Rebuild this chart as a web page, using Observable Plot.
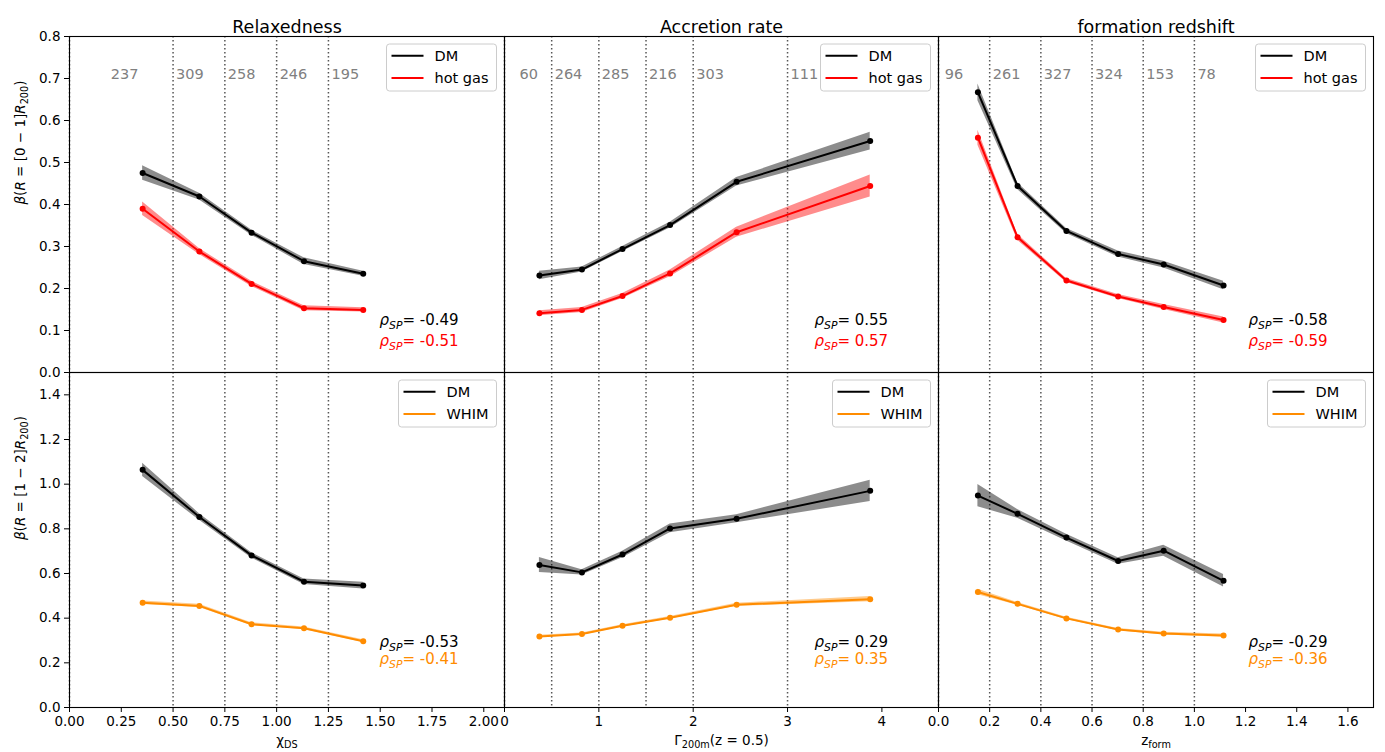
<!DOCTYPE html>
<html><head><meta charset="utf-8">
<script src="https://cdn.jsdelivr.net/npm/d3@7"></script>
<script src="https://cdn.jsdelivr.net/npm/@observablehq/plot@0.6"></script>
<style>
body{margin:0;background:#fff;}
#chart{position:relative;width:1385px;height:752px;overflow:hidden;font-family:"DejaVu Sans";background:#fff;}
#chart svg{position:absolute;}
</style></head><body><div id="chart"></div>
<script>
// ---------- data ----------
const titles = ["Relaxedness", "Accretion rate", "formation redshift"];
const xLabels = ["χDS", "Γ200m(z = 0.5)", "zform"];
const yLabels = ["β(R = [0 − 1]R200)", "β(R = [1 − 2]R200)"];

// Relaxedness
const relaxX = [0.353, 0.627, 0.879, 1.132, 1.418];
const relaxDMIn = [0.475, 0.419, 0.333, 0.265, 0.235];
const relaxDMInErr = [0.017, 0.008, 0.006, 0.008, 0.006];
const relaxGas = [0.390, 0.288, 0.211, 0.153, 0.149];
const relaxGasErr = [0.016, 0.007, 0.006, 0.006, 0.005];
const relaxDMOut = [1.064, 0.853, 0.681, 0.563, 0.546];
const relaxDMOutErr = [0.030, 0.015, 0.012, 0.012, 0.015];
const relaxWHIM = [0.469, 0.455, 0.373, 0.355, 0.297];
const relaxWHIMErr = [0.008, 0.007, 0.006, 0.006, 0.006];
const relaxEdges = [0, 0.5, 0.75, 1.0, 1.25];
const relaxCounts = [237, 309, 258, 246, 195];
const relaxCountX = [0.185, 0.5, 0.75, 1.0, 1.25];
const relaxRho = [-0.49, -0.51, -0.53, -0.41];
const relaxTicks = [0, 0.25, 0.5, 0.75, 1.0, 1.25, 1.5, 1.75, 2.0];

// Accretion rate
const accX = [0.37, 0.821, 1.251, 1.755, 2.46, 3.876];
const accDMIn = [0.231, 0.245, 0.294, 0.351, 0.454, 0.551];
const accDMInErr = [0.010, 0.006, 0.006, 0.007, 0.010, 0.021];
const accGas = [0.141, 0.149, 0.182, 0.236, 0.334, 0.444];
const accGasErr = [0.006, 0.006, 0.006, 0.008, 0.012, 0.026];
const accDMOut = [0.638, 0.605, 0.685, 0.802, 0.845, 0.970];
const accDMOutErr = [0.034, 0.012, 0.015, 0.020, 0.018, 0.048];
const accWHIM = [0.318, 0.329, 0.366, 0.402, 0.460, 0.485];
const accWHIMErr = [0.006, 0.005, 0.005, 0.006, 0.007, 0.012];
const accEdges = [0, 0.5, 1, 1.5, 2, 3];
const accCounts = [60, 264, 285, 216, 303, 111];
const accCountX = [0.128, 0.5, 1, 1.5, 2, 3];
const accRho = [0.55, 0.57, 0.29, 0.35];
const accTicks = [0, 1, 2, 3, 4];

// Formation redshift
const zfX = [0.154, 0.309, 0.50, 0.702, 0.880, 1.114];
const zfDMIn = [0.667, 0.444, 0.337, 0.282, 0.257, 0.207];
const zfDMInErr = [0.020, 0.008, 0.006, 0.007, 0.008, 0.010];
const zfGas = [0.559, 0.322, 0.219, 0.181, 0.156, 0.125];
const zfGasErr = [0.018, 0.007, 0.005, 0.005, 0.006, 0.007];
const zfDMOut = [0.949, 0.867, 0.761, 0.656, 0.702, 0.567];
const zfDMOutErr = [0.050, 0.020, 0.015, 0.015, 0.025, 0.028];
const zfWHIM = [0.517, 0.464, 0.399, 0.349, 0.331, 0.322];
const zfWHIMErr = [0.012, 0.006, 0.005, 0.005, 0.006, 0.007];
const zfEdges = [0, 0.2, 0.4, 0.6, 0.8, 1.0];
const zfCounts = [96, 261, 327, 324, 153, 78];
const zfCountX = [0.013, 0.2, 0.4, 0.6, 0.8, 1.0];
const zfRho = [-0.58, -0.59, -0.29, -0.36];
const zfTicks = [0, 0.2, 0.4, 0.6, 0.8, 1.0, 1.2, 1.4, 1.6];

const yTicksTop = [0, 0.1, 0.2, 0.3, 0.4, 0.5, 0.6, 0.7, 0.8];
const yTicksBottom = [0, 0.2, 0.4, 0.6, 0.8, 1.0, 1.2, 1.4];

// ---------- layout ----------
const colLeft = [69, 504, 938];
const colWidth = [435, 434, 435];
const rowTop = [36, 372];
const rowHeight = [336, 335];
const mL = 70, mR = 12, mT = 40, mB = 50;
const FONT = "DejaVu Sans";
const RED = "#ff0000", ORANGE = "#ff8c00";

function table(xs, ys, es) {
  return xs.map((x, i) => ({x, y: ys[i], lo: ys[i] - es[i], hi: ys[i] + es[i]}));
}

function rich(svg, plain, parts, fs) {
  d3.select(svg).selectAll("text").filter(function() { return this.textContent === plain; }).each(function() {
    const t = d3.select(this);
    t.selectAll("*").remove();
    t.text(null);
    let shift = 0;
    parts.forEach(p => {
      const s = t.append("tspan").text(p.t);
      if (p.it) s.attr("font-style", "italic");
      const target = p.sub ? 0.27 * fs : 0;
      if (p.sub) s.attr("font-size", (0.72 * fs) + "px");
      if (target !== shift) { s.attr("dy", (target - shift) + "px"); shift = target; }
    });
  });
}

function addLegend(svg, col, row, labels, colors, boxW) {
  const right = mL + colWidth[col] - 7.5;
  const top = mT + 8;
  const g = d3.select(svg).append("g").attr("font-family", FONT).attr("font-size", 14.5)
    .attr("text-anchor", "start");
  const left = right - boxW;
  g.append("rect").attr("x", left).attr("y", top).attr("width", boxW).attr("height", 47)
    .attr("rx", 3).attr("fill", "white").attr("fill-opacity", 0.8).attr("stroke", "#cccccc");
  labels.forEach((lab, i) => {
    const y = top + 11.8 + i * 22.2;
    g.append("line").attr("x1", left + 5).attr("x2", left + 37).attr("y1", y).attr("y2", y)
      .attr("stroke", colors[i]).attr("stroke-width", 2);
    g.append("text").attr("x", left + 48).attr("y", y).attr("dy", "0.36em")
      .attr("text-anchor", "start").attr("fill", "black").text(lab);
  });
}

function panel(o) {
  const {col, row, xDomain, yDomain, xTicks, xFmt, yTicks, edges, dm, other, otherColor, otherLabel,
         rho, counts, countX} = o;
  const w = colWidth[col], h = rowHeight[row];
  const dash = {stroke: "#444", strokeWidth: 1.5, strokeDasharray: "1.5,2.5", strokeOpacity: 0.9};
  const marks = [
    Plot.ruleX(edges, {x: d => d, ...dash}),
    Plot.areaY(dm, {x: "x", y1: "lo", y2: "hi", fill: "black", fillOpacity: 0.45}),
    Plot.line(dm, {x: "x", y: "y", stroke: "black", strokeWidth: 2}),
    Plot.dot(dm, {x: "x", y: "y", r: 3, fill: "black"}),
    Plot.areaY(other, {x: "x", y1: "lo", y2: "hi", fill: otherColor, fillOpacity: 0.45}),
    Plot.line(other, {x: "x", y: "y", stroke: otherColor, strokeWidth: 2}),
    Plot.dot(other, {x: "x", y: "y", r: 3, fill: otherColor}),
    Plot.frame({stroke: "black", strokeWidth: 1.1}),
    Plot.text([`ρSP= ${rho[0].toFixed(2)}`], {frameAnchor: "bottom-left", textAnchor: "start",
      dx: 310, dy: row === 0 ? -47.7 : -60.7, fill: "black", fontSize: 15}),
    Plot.text([`ρSP= ${rho[1].toFixed(2)}`], {frameAnchor: "bottom-left", textAnchor: "start",
      dx: 310, dy: row === 0 ? -26.7 : -43.4, fill: otherColor, fontSize: 15})
  ];
  if (row === 0) {
    marks.push(Plot.text(counts, {x: (d, i) => countX[i], y: () => 0.7, text: d => String(d),
      textAnchor: "start", dx: 3, dy: -4.6, fill: "#808080", fontSize: 14.5}));
    marks.push(Plot.text([titles[col]], {frameAnchor: "top", dy: -16, fontSize: 17.5, fill: "black"}));
  }
  if (row === 1) {
    marks.push(Plot.text([xLabels[col]], {frameAnchor: "bottom", dy: 37, fontSize: 13.5, fill: "black"}));
  }
  if (col === 0) {
    marks.push(Plot.text([yLabels[row]], {frameAnchor: "left", rotate: -90, dx: -49, fontSize: 13.5, fill: "black"}));
  }
  const svg = Plot.plot({
    width: mL + w + mR,
    height: mT + h + mB,
    marginLeft: mL, marginRight: mR, marginTop: mT, marginBottom: mB,
    style: {fontFamily: FONT, fontSize: "13.5px", background: "transparent", overflow: "visible", color: "black"},
    x: {domain: xDomain, axis: row === 1 ? "bottom" : null, ticks: xTicks, tickFormat: xFmt,
        tickSize: 5, tickPadding: 4, label: null},
    y: {domain: yDomain, axis: col === 0 ? "left" : null, ticks: yTicks, tickFormat: ".1f",
        tickSize: 5, tickPadding: 4, label: null},
    marks
  });
  svg.style.left = (colLeft[col] - mL) + "px";
  svg.style.top = (rowTop[row] - mT) + "px";
  svg.style.maxWidth = "none";
  document.getElementById("chart").appendChild(svg);
  addLegend(svg, col, row, ["DM", otherLabel], ["black", otherColor], row === 0 ? 110 : 98);
  rich(svg, `ρSP= ${rho[0].toFixed(2)}`, [{t: "ρ", it: 1}, {t: "SP", it: 1, sub: 1}, {t: `= ${rho[0].toFixed(2)}`}], 15);
  rich(svg, `ρSP= ${rho[1].toFixed(2)}`, [{t: "ρ", it: 1}, {t: "SP", it: 1, sub: 1}, {t: `= ${rho[1].toFixed(2)}`}], 15);
  if (col === 0) {
    const rng = row === 0 ? "[0 − 1]" : "[1 − 2]";
    rich(svg, yLabels[row], [{t: "β", it: 1}, {t: "("}, {t: "R", it: 1}, {t: ` = ${rng}`}, {t: "R", it: 1}, {t: "200", sub: 1}, {t: ")"}], 13.5);
  }
  if (row === 1) {
    const lp = [
      [{t: "χ"}, {t: "DS", sub: 1}],
      [{t: "Γ"}, {t: "200m", sub: 1}, {t: "(z = 0.5)"}],
      [{t: "z"}, {t: "form", sub: 1}]
    ][col];
    rich(svg, xLabels[col], lp, 13.5);
  }
}

const fmt2 = d3.format(".2f"), fmt0 = d3.format("d"), fmt1 = d3.format(".1f");

panel({col: 0, row: 0, xDomain: [0, 2.1], yDomain: [0, 0.8], xTicks: relaxTicks, xFmt: fmt2, yTicks: yTicksTop,
  edges: relaxEdges, dm: table(relaxX, relaxDMIn, relaxDMInErr), other: table(relaxX, relaxGas, relaxGasErr),
  otherColor: RED, otherLabel: "hot gas", rho: relaxRho.slice(0, 2), counts: relaxCounts, countX: relaxCountX});
panel({col: 1, row: 0, xDomain: [0, 4.6], yDomain: [0, 0.8], xTicks: accTicks, xFmt: fmt0, yTicks: yTicksTop,
  edges: accEdges, dm: table(accX, accDMIn, accDMInErr), other: table(accX, accGas, accGasErr),
  otherColor: RED, otherLabel: "hot gas", rho: accRho.slice(0, 2), counts: accCounts, countX: accCountX});
panel({col: 2, row: 0, xDomain: [0, 1.7], yDomain: [0, 0.8], xTicks: zfTicks, xFmt: fmt1, yTicks: yTicksTop,
  edges: zfEdges, dm: table(zfX, zfDMIn, zfDMInErr), other: table(zfX, zfGas, zfGasErr),
  otherColor: RED, otherLabel: "hot gas", rho: zfRho.slice(0, 2), counts: zfCounts, countX: zfCountX});
panel({col: 0, row: 1, xDomain: [0, 2.1], yDomain: [0, 1.5], xTicks: relaxTicks, xFmt: fmt2, yTicks: yTicksBottom,
  edges: relaxEdges, dm: table(relaxX, relaxDMOut, relaxDMOutErr), other: table(relaxX, relaxWHIM, relaxWHIMErr),
  otherColor: ORANGE, otherLabel: "WHIM", rho: relaxRho.slice(2, 4)});
panel({col: 1, row: 1, xDomain: [0, 4.6], yDomain: [0, 1.5], xTicks: accTicks, xFmt: fmt0, yTicks: yTicksBottom,
  edges: accEdges, dm: table(accX, accDMOut, accDMOutErr), other: table(accX, accWHIM, accWHIMErr),
  otherColor: ORANGE, otherLabel: "WHIM", rho: accRho.slice(2, 4)});
panel({col: 2, row: 1, xDomain: [0, 1.7], yDomain: [0, 1.5], xTicks: zfTicks, xFmt: fmt1, yTicks: yTicksBottom,
  edges: zfEdges, dm: table(zfX, zfDMOut, zfDMOutErr), other: table(zfX, zfWHIM, zfWHIMErr),
  otherColor: ORANGE, otherLabel: "WHIM", rho: zfRho.slice(2, 4)});
</script></body></html>
